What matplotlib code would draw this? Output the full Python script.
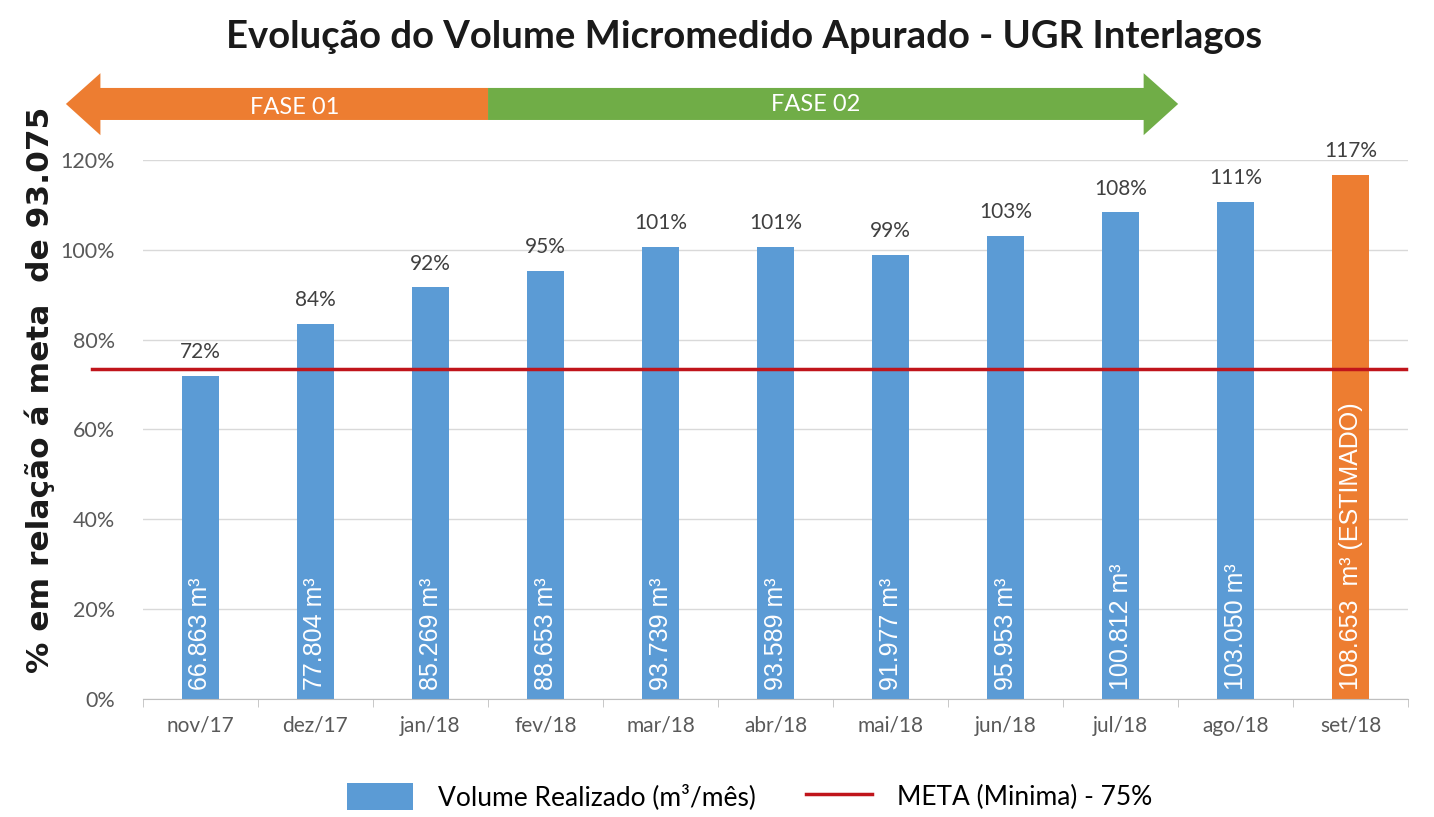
import matplotlib.pyplot as plt
import matplotlib.transforms as mtransforms
from matplotlib.patches import Polygon, Patch
from matplotlib.lines import Line2D

# monthly measured volume (m3) and the target it is compared with
months = ["nov/17", "dez/17", "jan/18", "fev/18", "mar/18", "abr/18",
          "mai/18", "jun/18", "jul/18", "ago/18", "set/18"]
volumes = [66863, 77804, 85269, 88653, 93739, 93589, 91977, 95953, 100812, 103050, 108653]
estimated = [False] * 10 + [True]
meta_volume = 93075
meta_line = 73.5  # where the red "META" line sits on the chart

# phase arrows: label, start, end (category positions), direction
phases = [("FASE 01", -1.17, 2.5, "left"), ("FASE 02", 2.5, 8.5, "right")]

blue = "#5B9BD5"
orange = "#ED7D31"
green = "#70AD47"
red = "#C0151B"
grey_text = "#595959"

pct = [v / meta_volume * 100 for v in volumes]
x = list(range(len(months)))

fig = plt.figure(figsize=(14.34, 8.17), dpi=100)
ax = fig.add_axes([0.0997, 0.1444, 0.8823, 0.6598])

colors = [orange if e else blue for e in estimated]
ax.bar(x, pct, width=0.32, color=colors, zorder=2)

# percent labels above the bars
for xi, p in zip(x, pct):
    ax.annotate(f"{round(p)}%", (xi, p), xytext=(0, 10), textcoords="offset points",
                ha="center", va="bottom", fontsize=15, color="#404040", family="Lato")

# volume labels inside the bars
for xi, v, e in zip(x, volumes, estimated):
    txt = f"{v:,}".replace(",", ".")
    txt = txt + "  m³ (ESTIMADO)" if e else txt + " m³"
    ax.text(xi, 2, txt, rotation=90, ha="center", va="bottom", color="white",
            fontsize=18, family="Liberation Sans", zorder=3)

# target line, extends a bit to the left of the plot area
ax.plot([-0.94, 10.48], [meta_line, meta_line], color=red, lw=2.5, zorder=4, clip_on=False)

ax.set_xlim(-0.5, len(months) - 0.5)
ax.set_ylim(0, 120)
ax.set_yticks(range(0, 121, 20))
ax.set_yticklabels([f"{t}%" for t in range(0, 121, 20)])
ax.set_xticks(x)
ax.set_xticklabels(months)
ax.set_xticks([i - 0.5 for i in range(len(months) + 1)], minor=True)
ax.tick_params(axis="x", which="major", length=0, pad=12, labelsize=15, labelcolor=grey_text)
ax.tick_params(axis="x", which="minor", length=6, color="#BFBFBF")
ax.tick_params(axis="y", length=0, pad=20, labelsize=15.5, labelcolor=grey_text)
for lbl in ax.get_xticklabels() + ax.get_yticklabels():
    lbl.set_family("Lato")
ax.grid(axis="y", color="#D9D9D9", lw=1, zorder=0)
for s in ["top", "right", "left"]:
    ax.spines[s].set_visible(False)
ax.spines["bottom"].set_color("#BFBFBF")

# phase arrows above the plot
trans = mtransforms.blended_transform_factory(ax.transData, ax.transAxes)
body_lo, body_hi, head_lo, head_hi = 1.0742, 1.1336, 1.046, 1.161
head_len = 0.3
for (label, x0, x1, direction), col in zip(phases, [orange, green]):
    mid_y = (body_lo + body_hi) / 2
    if direction == "left":
        pts = [(x0, mid_y), (x0 + head_len, head_hi), (x0 + head_len, body_hi),
               (x1, body_hi), (x1, body_lo), (x0 + head_len, body_lo), (x0 + head_len, head_lo)]
    else:
        pts = [(x0, body_lo), (x0, body_hi), (x1 - head_len, body_hi), (x1 - head_len, head_hi),
               (x1, mid_y), (x1 - head_len, head_lo), (x1 - head_len, body_lo)]
    ax.add_patch(Polygon(pts, closed=True, transform=trans, facecolor=col,
                         edgecolor="none", clip_on=False))
ax.text(0.82, 1.097, "FASE 01", transform=trans, ha="center", va="center",
        color="white", fontsize=17, family="Lato")
ax.text(5.35, 1.103, "FASE 02", transform=trans, ha="center", va="center",
        color="white", fontsize=17, family="Lato")

fig.text(0.519, 0.955, "Evolução do Volume Micromedido Apurado - UGR Interlagos",
         ha="center", va="center", fontsize=27.5, fontweight="bold", family="Lato", color="#1a1a1a")
fig.text(0.028, 0.523, "% em relação á meta  de 93.075", rotation=90, ha="center", va="center",
         fontsize=22.5, fontweight="bold", family="DejaVu Sans", color="#1a1a1a")

handles = [Patch(facecolor=blue, edgecolor="none"), Line2D([0], [0], color=red, lw=2.5)]
fig.legend(handles, ["Volume Realizado (m³/mês)", "META (Minima) - 75%"],
           loc="center", bbox_to_anchor=(0.523, 0.025), ncol=2, frameon=False,
           prop={"family": "Lato", "size": 19}, handlelength=2.5, handleheight=1.2,
           columnspacing=1.9, handletextpad=0.95)

fig.savefig("out.png", dpi=100)
